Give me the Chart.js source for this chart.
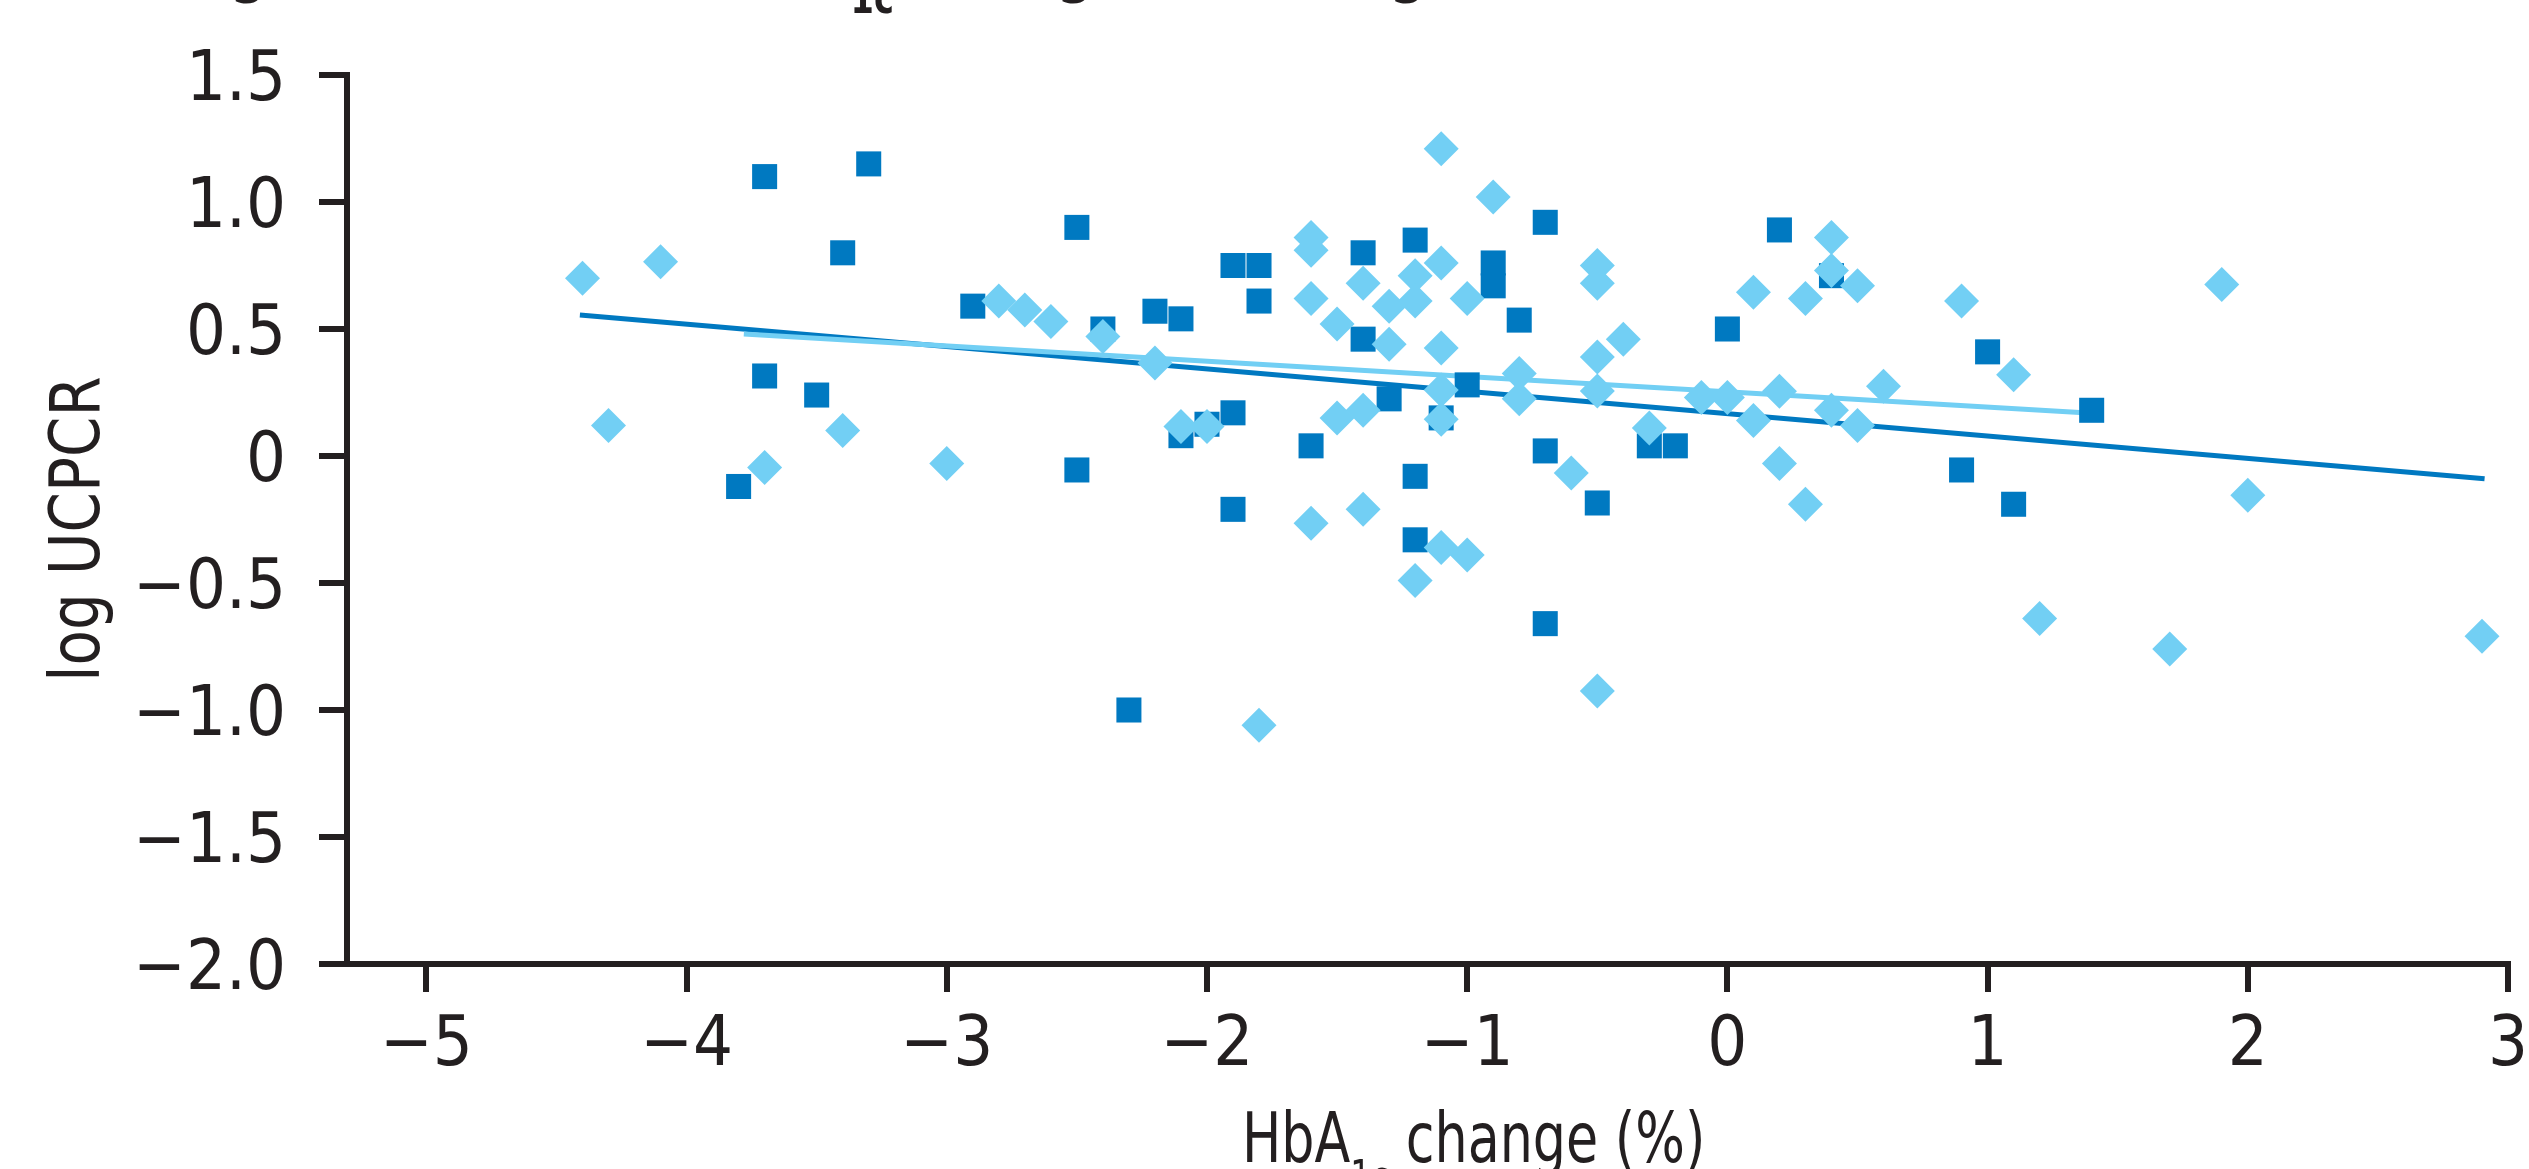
<!DOCTYPE html>
<html><head><meta charset="utf-8">
<script src="https://cdn.jsdelivr.net/npm/chart.js@4.4.1/dist/chart.umd.min.js"></script>
<style>html,body{margin:0;padding:0;background:#fff;overflow:hidden}canvas{display:block}</style>
</head><body>
<canvas id="c" width="2529" height="1169" style="width:2529px;height:1169px"></canvas>
<script>
// ---- data ----
const squareX = [-3.8,-3.7,-3.7,-3.5,-3.4,-3.3,-2.9,-2.5,-2.5,-2.4,-2.3,-2.2,-2.1,-2.1,-2.0,-1.9,-1.9,-1.9,-1.8,-1.8,-1.6,-1.4,-1.4,-1.3,-1.2,-1.2,-1.2,-1.1,-1.0,-0.9,-0.9,-0.8,-0.7,-0.7,-0.7,-0.5,-0.3,-0.2,0.0,0.2,0.4,0.9,1.0,1.1,1.4];
const squareY = [-0.12,1.10,0.315,0.24,0.80,1.15,0.59,0.90,-0.055,0.50,-1.0,0.57,0.54,0.08,0.125,0.75,0.17,-0.21,0.75,0.61,0.04,0.80,0.46,0.225,0.85,-0.08,-0.33,0.15,0.28,0.76,0.67,0.535,0.92,0.02,-0.66,-0.185,0.04,0.04,0.50,0.89,0.71,-0.055,0.41,-0.19,0.18];
const diamondX = [-4.4,-4.3,-4.1,-3.7,-3.4,-3.0,-2.8,-2.7,-2.6,-2.4,-2.2,-2.1,-2.0,-1.8,-1.6,-1.6,-1.6,-1.6,-1.5,-1.5,-1.4,-1.4,-1.4,-1.3,-1.3,-1.2,-1.2,-1.2,-1.1,-1.1,-1.1,-1.1,-1.1,-1.1,-1.0,-1.0,-0.9,-0.8,-0.8,-0.6,-0.5,-0.5,-0.5,-0.5,-0.5,-0.4,-0.3,-0.1,0.0,0.1,0.1,0.2,0.2,0.3,0.3,0.4,0.4,0.4,0.5,0.5,0.6,0.9,1.1,1.2,1.7,1.9,2.0,2.9];
const diamondY = [0.70,0.12,0.765,-0.045,0.10,-0.03,0.61,0.575,0.53,0.47,0.366,0.116,0.116,-1.06,0.86,0.81,0.62,-0.265,0.52,0.15,0.68,0.18,-0.21,0.59,0.44,0.71,0.61,-0.49,1.21,0.76,0.425,0.26,0.145,-0.36,0.62,-0.39,1.02,0.325,0.225,-0.067,0.75,0.68,0.39,0.256,-0.925,0.46,0.11,0.23,0.23,0.645,0.14,0.255,-0.03,0.62,-0.19,0.86,0.73,0.18,0.67,0.12,0.275,0.61,0.32,-0.64,-0.76,0.675,-0.155,-0.71];
const fitDarkX = [-4.41, 2.91];
const fitDarkY = [0.555, -0.09];
const fitLightX = [-3.78, 1.37];
const fitLightY = [0.48, 0.17];
const xTickValues = [-5,-4,-3,-2,-1,0,1,2,3];
const xTickLabels = ["\u22125","\u22124","\u22123","\u22122","\u22121","0","1","2","3"];
const yTickValues = [-2,-1.5,-1,-0.5,0,0.5,1,1.5];
const yTickLabels = ["\u22122.0","\u22121.5","\u22121.0","\u22120.5","0","0.5","1.0","1.5"];
const yTitle = "log UCPCR";
const xTitleParts = ["HbA","1c"," change (%)"];
const topTitleParts = ["(A) Log UCPCR versus HbA","1c"," change following treatment"];

// ---- styling ----
const FF = "'Liberation Sans Narrow','DejaVu Sans Condensed','Liberation Sans',sans-serif";
const INK = '#231F20';
const DARK = '#0079C1';
const LIGHT = '#72CFF4';

const pts = (xs, ys) => xs.map((x, i) => ({x: x, y: ys[i]}));
const labelFor = (vals, labels, v) => { const i = vals.findIndex(t => Math.abs(t - v) < 1e-9); return i < 0 ? '' : labels[i]; };

function drawSub(ctx, parts, x, y, size, subSize, subDy, weight, sx) {
  ctx.save();
  ctx.translate(x, y);
  ctx.scale(sx, 1);
  ctx.textAlign = 'left';
  let cx = 0;
  ctx.font = weight + size + 'px ' + FF;
  ctx.fillText(parts[0], cx, 0);
  cx += ctx.measureText(parts[0]).width;
  ctx.font = weight + subSize + 'px ' + FF;
  ctx.fillText(parts[1], cx, subDy);
  cx += ctx.measureText(parts[1]).width;
  ctx.font = weight + size + 'px ' + FF;
  ctx.fillText(parts[2], cx, 0);
  ctx.restore();
}

const textPlugin = {
  id: 'texts',
  afterDraw(chart) {
    const ctx = chart.ctx;
    ctx.save();
    ctx.fillStyle = INK;
    ctx.textBaseline = 'alphabetic';
    ctx.save();
    ctx.translate(99, 529);
    ctx.rotate(-Math.PI / 2);
    ctx.scale(0.92, 1);
    ctx.font = '70px ' + FF;
    ctx.textAlign = 'center';
    ctx.fillText(yTitle, 0, 0);
    ctx.restore();
    drawSub(ctx, xTitleParts, 1242, 1162, 70, 44, 30, '', 0.83);
    drawSub(ctx, topTitleParts, 50, -11, 70, 44, 24, 'bold ', 0.85);
    ctx.restore();
  }
};

new Chart(document.getElementById('c'), {
  type: 'scatter',
  data: {
    datasets: [
      {label: 'diamonds', data: pts(diamondX, diamondY), pointStyle: 'rectRot', pointRadius: 17.5, pointHoverRadius: 17.5, backgroundColor: LIGHT, borderWidth: 0, order: 0},
      {label: 'squares', data: pts(squareX, squareY), pointStyle: 'rect', pointRadius: 17.7, pointHoverRadius: 17.7, backgroundColor: DARK, borderWidth: 0, order: 1},
      {type: 'line', label: 'fitLight', data: pts(fitLightX, fitLightY), borderColor: LIGHT, borderWidth: 5, pointRadius: 0, showLine: true, fill: false, order: 2},
      {type: 'line', label: 'fitDark', data: pts(fitDarkX, fitDarkY), borderColor: DARK, borderWidth: 5, pointRadius: 0, showLine: true, fill: false, order: 3}
    ]
  },
  options: {
    responsive: false,
    animation: false,
    devicePixelRatio: 1,
    layout: {padding: {top: 73, right: 21, left: 0, bottom: 0}},
    plugins: {legend: {display: false}, tooltip: {enabled: false}},
    scales: {
      x: {
        type: 'linear', min: -5.305, max: 3,
        afterBuildTicks: s => { s.ticks = xTickValues.map(v => ({value: v})); },
        afterFit: s => { s.height = 205; s.paddingLeft = 0; s.paddingRight = 0; },
        ticks: {callback: v => labelFor(xTickValues, xTickLabels, v), font: {size: 70, family: FF}, color: INK, padding: 13, maxRotation: 0, autoSkip: false},
        grid: {drawOnChartArea: false, drawTicks: true, tickLength: 28, lineWidth: 6, color: INK},
        border: {display: true, width: 6, color: INK}
      },
      y: {
        type: 'linear', min: -2, max: 1.5,
        afterBuildTicks: s => { s.ticks = yTickValues.map(v => ({value: v})); },
        afterFit: s => { s.width = 347; },
        ticks: {callback: v => labelFor(yTickValues, yTickLabels, v), font: {size: 70, family: FF}, color: INK, padding: 33, labelOffset: 7, autoSkip: false},
        grid: {drawOnChartArea: false, drawTicks: true, tickLength: 28, lineWidth: 6, color: INK},
        border: {display: true, width: 6, color: INK}
      }
    }
  },
  plugins: [textPlugin]
});
</script>
</body></html>
